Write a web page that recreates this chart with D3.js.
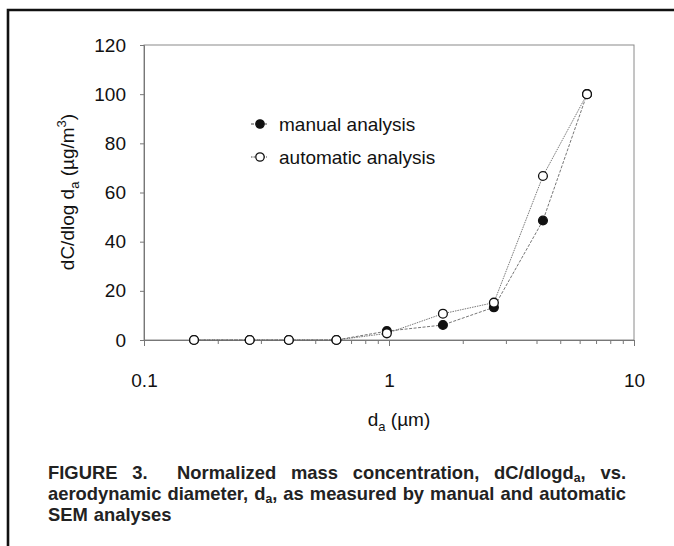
<!DOCTYPE html>
<html>
<head>
<meta charset="utf-8">
<script src="https://cdn.jsdelivr.net/npm/d3@7"></script>
<style>
  body { margin: 0; background: #fff; }
  svg { display: block; }
  text { font-family: "Liberation Sans", Arial, sans-serif; fill: #111; }
  .cap { font-family: "Liberation Sans Narrow", "Liberation Sans", Arial, sans-serif; font-weight: bold; font-size: 18px; fill: #222; }
</style>
</head>
<body>
<div id="main"></div>
<script>
// aerodynamic diameter (um) and dC/dlog da (ug/m3)
const diameters = [0.16, 0.27, 0.39, 0.61, 0.98, 1.66, 2.68, 4.25, 6.43];
const manualValues = [0, 0, 0, 0, 3.6, 6.1, 13.3, 48.6, 100];
const automaticValues = [0, 0, 0, 0, 2.7, 10.7, 15.2, 66.7, 100];
const yTicks = [0, 20, 40, 60, 80, 100, 120];
const xTickLabels = [0.1, 1, 10];
const seriesNames = ["manual analysis", "automatic analysis"];

const ctx = {
    W: 674,
    H: 546,
    left: 144,
    right: 634,
    top: 45,
    bottom: 340,
};

const svg = d3.select("#main").append("svg")
    .attr("width", ctx.W)
    .attr("height", ctx.H);

// outer frame of the scanned page (top + left only)
svg.append("path")
    .attr("d", `M8,${ctx.H} V10 H${ctx.W}`)
    .attr("fill", "none")
    .attr("stroke", "#111")
    .attr("stroke-width", 2.6);

const x = d3.scaleLog().domain([0.1, 10]).range([ctx.left, ctx.right]);
const y = d3.scaleLinear().domain([0, 120]).range([ctx.bottom, ctx.top]);

// plot box
svg.append("rect")
    .attr("x", ctx.left).attr("y", ctx.top)
    .attr("width", ctx.right - ctx.left)
    .attr("height", ctx.bottom - ctx.top)
    .attr("fill", "none")
    .attr("stroke", "#8a8a8a")
    .attr("stroke-width", 1);

// y axis
const yAxis = d3.axisLeft(y).tickValues(yTicks).tickSize(4).tickPadding(14);
const gy = svg.append("g").attr("transform", `translate(${ctx.left},0)`).call(yAxis);
gy.select(".domain").attr("stroke", "#777");
gy.selectAll(".tick line").attr("stroke", "#777");
gy.selectAll(".tick text").style("font-size", "19px").attr("fill", "#111");

// x axis, log ticks
const minorTicks = [];
[0.1, 1].forEach(dec => {
    for (let k = 1; k <= 10; k++) minorTicks.push(+(dec * k).toPrecision(3));
});
const xTicks = Array.from(new Set(minorTicks));
const xAxis = d3.axisBottom(x).tickValues(xTicks).tickSize(4)
    .tickFormat(d => xTickLabels.includes(d) ? d3.format("")(d) : "");
const gx = svg.append("g").attr("transform", `translate(0,${ctx.bottom})`).call(xAxis);
gx.select(".domain").attr("stroke", "#777");
gx.selectAll(".tick line").attr("stroke", "#777")
    .attr("y2", d => xTickLabels.includes(d) ? 6 : 4);
gx.selectAll(".tick text").style("font-size", "19px").attr("fill", "#111").attr("dy", "2.1em");

// axis titles
const yt = svg.append("text")
    .attr("transform", `translate(74,192) rotate(-90)`)
    .attr("text-anchor", "middle")
    .style("font-size", "19px");
yt.append("tspan").text("dC/dlog d");
yt.append("tspan").text("a").style("font-size", "13px").attr("dy", 5);
yt.append("tspan").text(" (\u00b5g/m").attr("dy", -5);
yt.append("tspan").text("3").style("font-size", "13px").attr("dy", -8);
yt.append("tspan").text(")").attr("dy", 8);

const xt = svg.append("text")
    .attr("x", 399).attr("y", 426)
    .attr("text-anchor", "middle")
    .style("font-size", "19px");
xt.append("tspan").text("d");
xt.append("tspan").text("a").style("font-size", "13px").attr("dy", 5);
xt.append("tspan").text(" (\u00b5m)").attr("dy", -5);

// series
const series = [
    { name: seriesNames[0], values: manualValues, fill: "#111", dash: "3,1.5" },
    { name: seriesNames[1], values: automaticValues, fill: "#fff", dash: "1.5,1" },
];

const line = d3.line()
    .x(d => x(d[0]))
    .y(d => y(d[1]));

series.forEach(s => {
    const pts = diameters.map((d, i) => [d, s.values[i]]);
    svg.append("path")
        .datum(pts)
        .attr("d", line)
        .attr("fill", "none")
        .attr("stroke", "#666")
        .attr("stroke-width", 0.9)
        .attr("stroke-dasharray", s.dash);
});
series.forEach(s => {
    const pts = diameters.map((d, i) => [d, s.values[i]]);
    svg.append("g").selectAll("circle")
        .data(pts)
        .enter().append("circle")
        .attr("cx", d => x(d[0]))
        .attr("cy", d => y(d[1]))
        .attr("r", 4.4)
        .attr("fill", s.fill)
        .attr("stroke", "#111")
        .attr("stroke-width", 1.3);
});

// legend
const legend = svg.append("g");
series.forEach((s, i) => {
    const ly = 124 + i * 33;
    legend.append("line")
        .attr("x1", 251).attr("x2", 267)
        .attr("y1", ly).attr("y2", ly)
        .attr("stroke", "#444")
        .attr("stroke-width", 1)
        .attr("stroke-dasharray", s.dash);
    legend.append("circle")
        .attr("cx", 260).attr("cy", ly)
        .attr("r", 4.2)
        .attr("fill", s.fill)
        .attr("stroke", "#111")
        .attr("stroke-width", 1.3);
    legend.append("text")
        .attr("x", 279).attr("y", ly + 7)
        .style("font-size", "19px")
        .text(s.name);
});

// caption, justified lines built word by word (narrowed to look condensed)
const captionLines = [
    { y: 479, justify: true, words: [["FIGURE"], ["3."], [""], ["Normalized"], ["mass"], ["concentration,"], ["dC/dlogd", "a", ","], ["vs."]] },
    { y: 500, justify: true, words: [["aerodynamic"], ["diameter,"], ["d", "a", ","], ["as"], ["measured"], ["by"], ["manual"], ["and"], ["automatic"]] },
    { y: 521, justify: false, words: [["SEM"], ["analyses"]] },
];
const capLeft = 48, capRight = 626, refGap = 6;

const built = captionLines.map(cl => {
    const nodes = cl.words.map(parts => {
        const t = svg.append("text").attr("class", "cap");
        parts.forEach((p, k) => {
            const ts = t.append("tspan").text(p);
            if (k === 1) ts.style("font-size", "12px").attr("dy", 3);
            if (k === 2) ts.attr("dy", -3);
        });
        return t;
    });
    const widths = nodes.map(n => n.node().getComputedTextLength());
    return { cl, nodes, widths };
});

// horizontal squeeze chosen so the second line sits with ordinary word gaps
const ref = built[1];
const sx = (capRight - capLeft - refGap * (ref.nodes.length - 1)) / d3.sum(ref.widths);

built.forEach(({ cl, nodes, widths }) => {
    const w = widths.map(v => v * sx);
    const gaps = nodes.length - 1;
    const gap = cl.justify ? (capRight - capLeft - d3.sum(w)) / gaps : refGap;
    let cx = capLeft;
    nodes.forEach((n, i) => {
        n.attr("transform", `translate(${cx},${cl.y}) scale(${sx},1)`);
        cx += w[i] + gap;
    });
});
</script>
</body>
</html>
